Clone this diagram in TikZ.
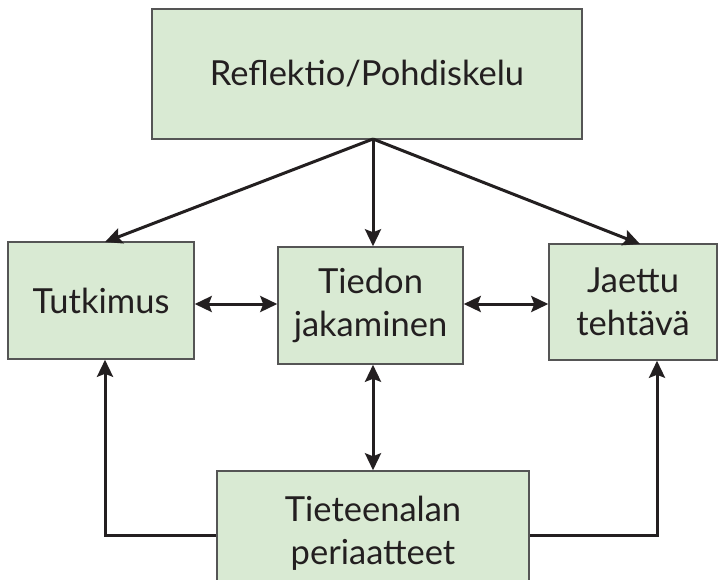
\documentclass[tikz,border=0pt]{standalone}
\usepackage{fontspec}
\setmainfont{Lato}
\usetikzlibrary{arrows.meta,calc}
\definecolor{boxfill}{HTML}{D9EAD3}
\definecolor{boxline}{HTML}{555555}
\definecolor{ink}{HTML}{231F20}
\begin{document}
\begin{tikzpicture}[x=1pt,y=-1pt,
  box/.style={draw=boxline,line width=1.5pt,fill=boxfill,text=ink,
    inner sep=0pt,align=center,font=\fontsize{34.5}{43}\selectfont},
  link/.style={draw=ink,line width=3pt,-{Stealth[length=17pt,width=16pt,inset=3pt]}},
  both/.style={draw=ink,line width=3pt,
    {Stealth[length=17pt,width=16pt,inset=3pt]}-{Stealth[length=17pt,width=16pt,inset=3pt]}}]
  \useasboundingbox (0,0) rectangle (727,579);
  \clip (0,0) rectangle (727,579);
  \fill[white] (0,0) rectangle (727,579);

  % boxes
  \node[box,minimum width=430pt,minimum height=130pt] (refl) at (367,74) {Reflektio/Pohdiskelu};
  \node[box,minimum width=186pt,minimum height=117pt] (tutk) at (101,300.5) {Tutkimus};
  \node[box,minimum width=185pt,minimum height=117pt] (tied) at (370.5,305.5) {Tiedon\\jakaminen};
  \node[box,minimum width=168pt,minimum height=116pt] (jaet) at (633,302) {Jaettu\\tehtävä};
  \node[box,minimum width=312pt,minimum height=124pt] (peri) at (373,533) {Tieteenalan\\periaatteet};

  % connector anchors
  \coordinate (src) at (373,139);
  \coordinate (tutkT) at (105,242);
  \coordinate (jaetT) at (640,244);
  \coordinate (leftC) at (105,535);
  \coordinate (rightC) at (657,535);

  % arrows from the top box
  \draw[link] (src) -- (tutkT);
  \draw[link] (src) -- (tied.north -| src);
  \draw[link] (src) -- (jaetT);

  % two-way links
  \draw[both] (tutk.east |- 0,304) -- (tied.west |- 0,304);
  \draw[both] (tied.east |- 0,304) -- (jaet.west |- 0,304);
  \draw[both] (tied.south -| src) -- (peri.north -| src);

  % elbow links from the bottom box
  \draw[link] (peri.west |- leftC) -- (leftC) -- (tutk.south -| leftC);
  \draw[link] (peri.east |- rightC) -- (rightC) -- (jaet.south -| rightC);
\end{tikzpicture}
\end{document}
